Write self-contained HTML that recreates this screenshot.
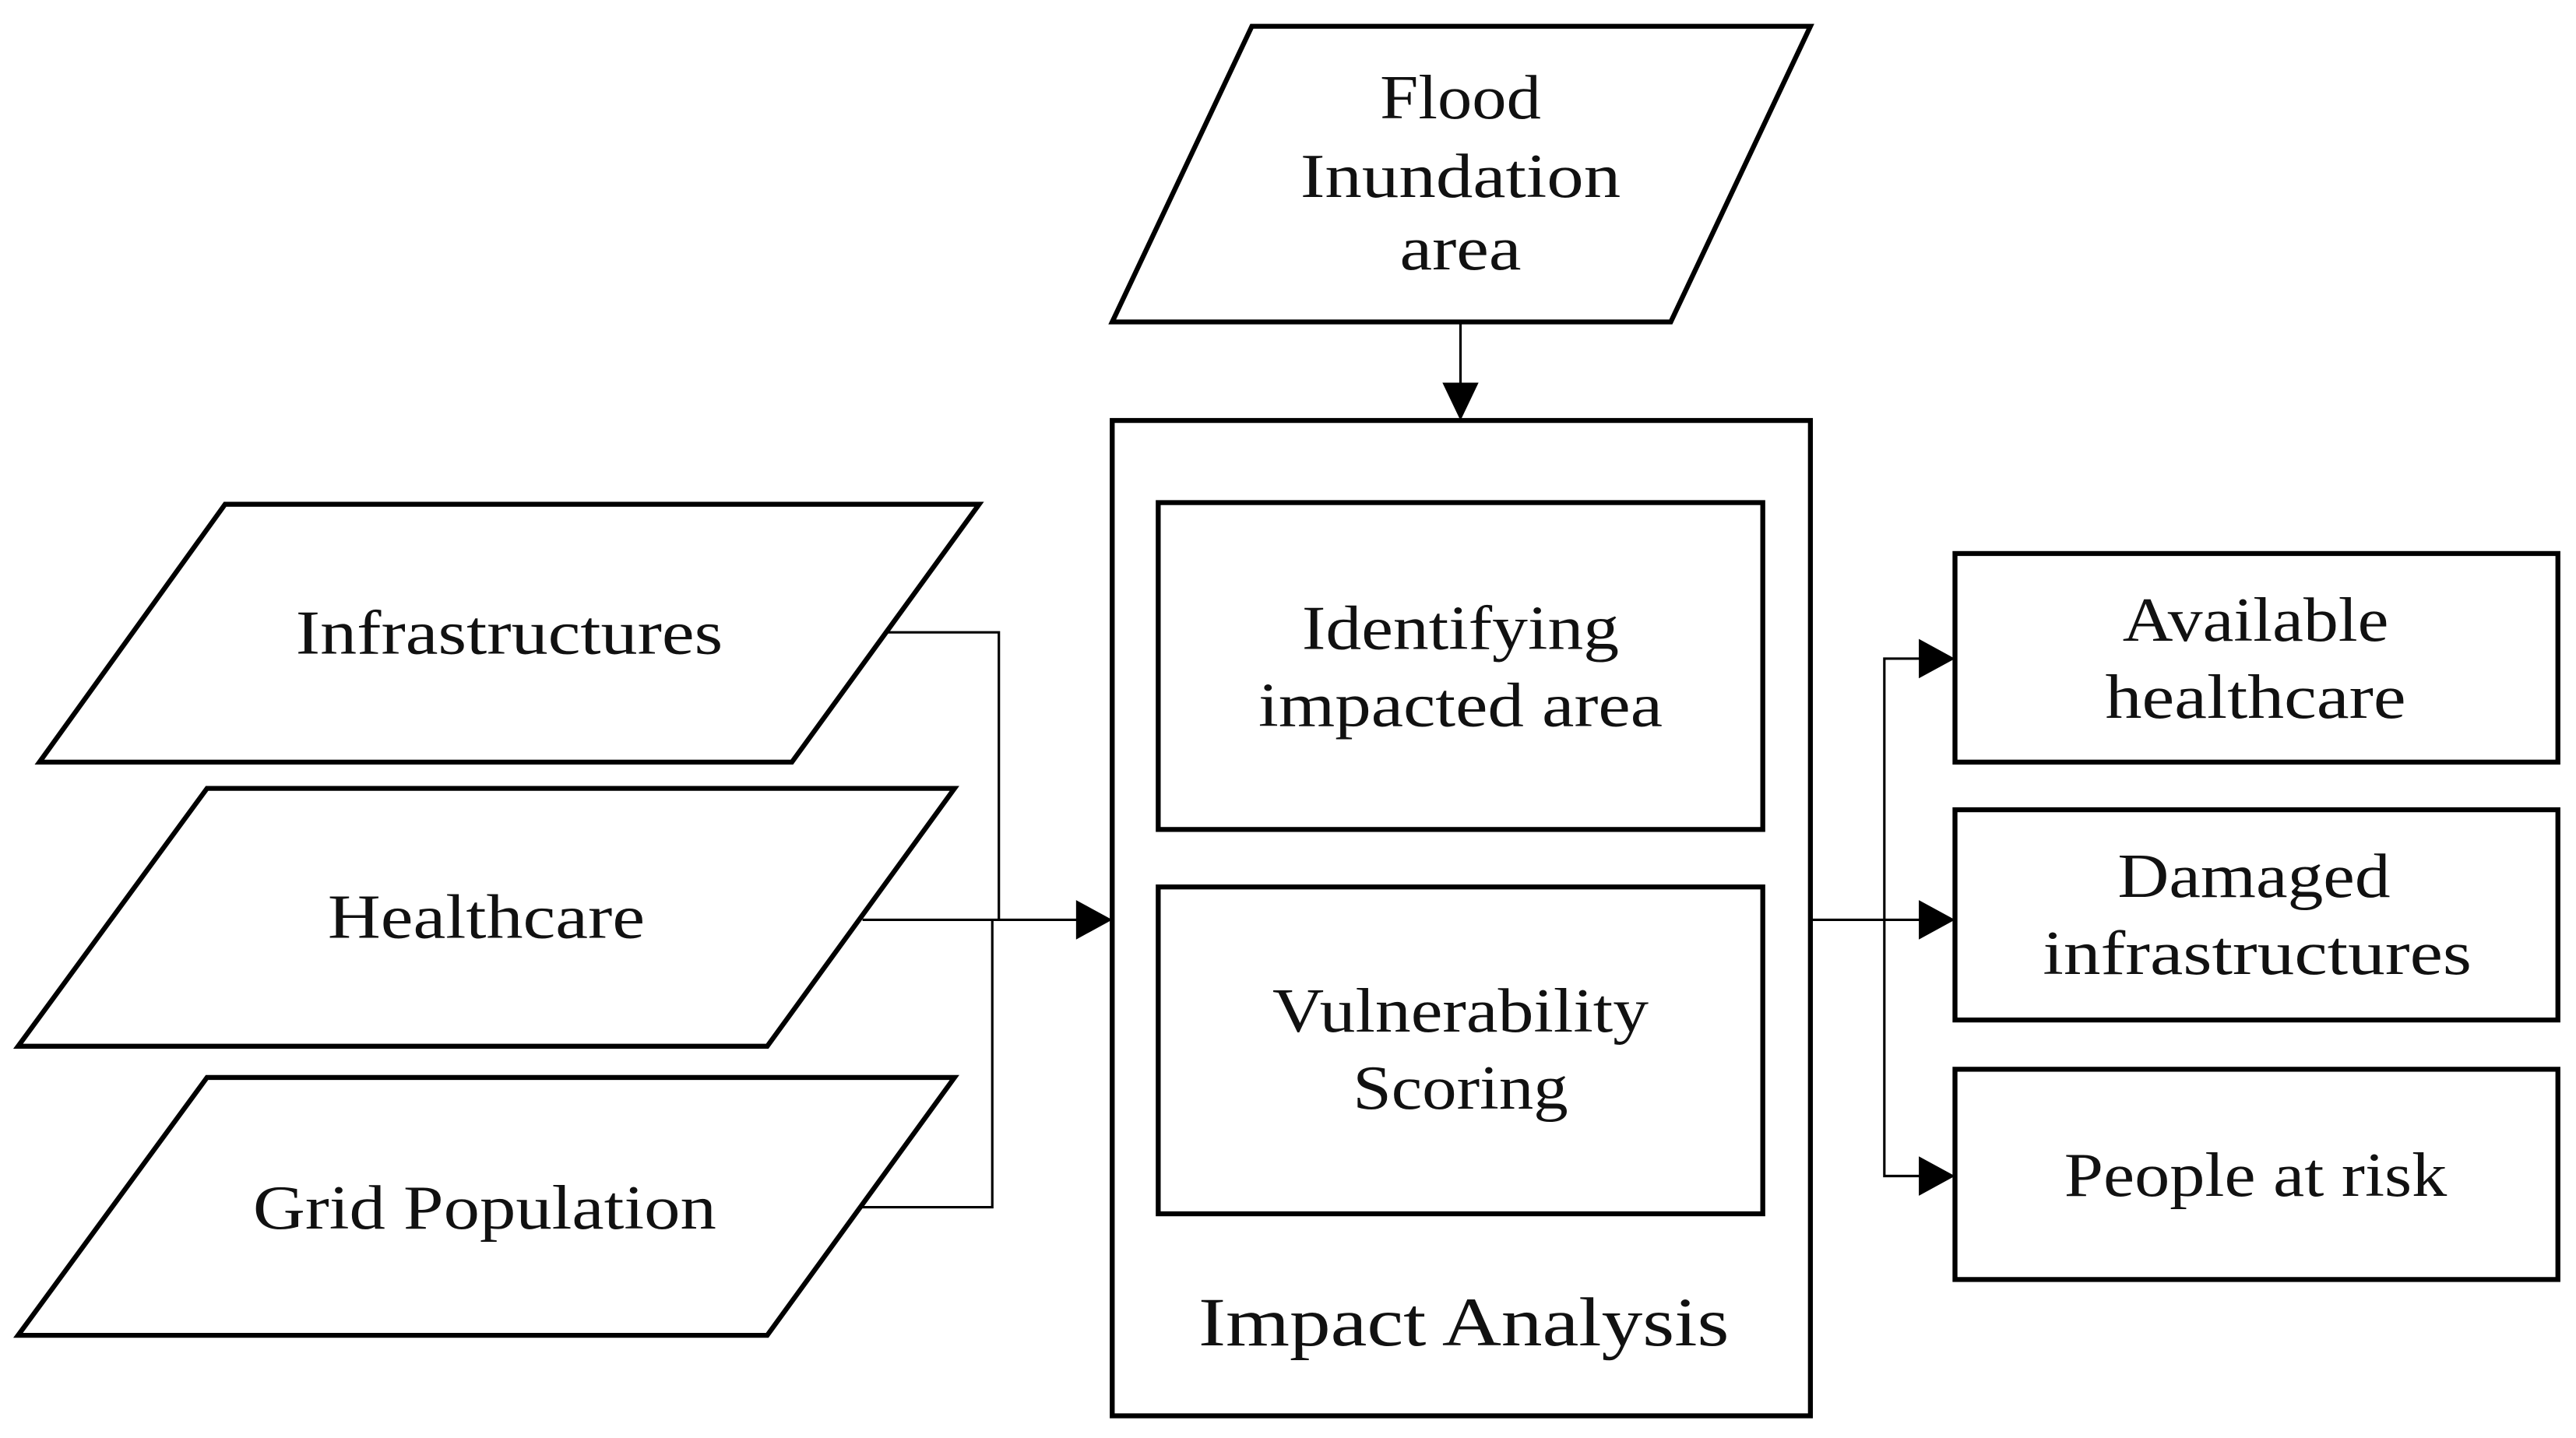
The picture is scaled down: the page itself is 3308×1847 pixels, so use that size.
<!DOCTYPE html>
<html><head><meta charset="utf-8"><style>html,body{margin:0;padding:0;background:#fff}svg{display:block}</style></head>
<body>
<svg width="3308" height="1847" viewBox="0 0 1568 875.5" xmlns="http://www.w3.org/2000/svg">
<g fill="#fff" stroke="#000" stroke-width="3">
<polygon points="762,16 1102,16 1017,196 677,196"/>
<rect x="677" y="256" width="425" height="606"/>
<rect x="705" y="306" width="368" height="199"/>
<rect x="705" y="540" width="368" height="199"/>
<polygon points="137,307 596,307 482,464 24,464"/>
<polygon points="126,480 581,480 467,637 11,637"/>
<polygon points="126,656 581,656 467,813 11,813"/>
<rect x="1190" y="337" width="367" height="127"/>
<rect x="1190" y="493" width="367" height="128"/>
<rect x="1190" y="651" width="367" height="128"/>
</g>
<g fill="none" stroke="#000" stroke-width="1.5">
<line x1="889" y1="196" x2="889" y2="236"/>
<polyline points="538,385 608,385 608,560"/>
<polyline points="525,735 604,735 604,560"/>
<line x1="525" y1="560" x2="658" y2="560"/>
<line x1="1102" y1="560" x2="1170" y2="560"/>
<polyline points="1170,401 1147,401 1147,716 1170,716"/>
</g>
<g fill="#000">
<path d="M878,233 L900,233 L889,256z"/>
<path d="M655,548 L677,560 L655,572z"/>
<path d="M1168,389 L1190,401 L1168,413z"/>
<path d="M1168,548 L1190,560 L1168,572z"/>
<path d="M1168,704 L1190,716 L1168,728z"/>
</g>
<g font-family="'Liberation Serif',serif" font-size="38" fill="#111" text-anchor="middle">
<text x="889" y="72" textLength="98" lengthAdjust="spacingAndGlyphs">Flood</text>
<text x="889" y="120" textLength="195" lengthAdjust="spacingAndGlyphs">Inundation</text>
<text x="889" y="164" textLength="74" lengthAdjust="spacingAndGlyphs">area</text>
<text x="889" y="395" textLength="193" lengthAdjust="spacingAndGlyphs">Identifying</text>
<text x="889" y="442" textLength="246" lengthAdjust="spacingAndGlyphs">impacted area</text>
<text x="889" y="628" textLength="229" lengthAdjust="spacingAndGlyphs">Vulnerability</text>
<text x="889" y="675" textLength="131" lengthAdjust="spacingAndGlyphs">Scoring</text>
<text x="891" y="819" font-size="42" textLength="323" lengthAdjust="spacingAndGlyphs">Impact Analysis</text>
<text x="310" y="398" textLength="260" lengthAdjust="spacingAndGlyphs">Infrastructures</text>
<text x="296" y="571" textLength="193" lengthAdjust="spacingAndGlyphs">Healthcare</text>
<text x="295" y="748" textLength="282" lengthAdjust="spacingAndGlyphs">Grid Population</text>
<text x="1373" y="390" textLength="162" lengthAdjust="spacingAndGlyphs">Available</text>
<text x="1373" y="437" textLength="183" lengthAdjust="spacingAndGlyphs">healthcare</text>
<text x="1372" y="546" textLength="166" lengthAdjust="spacingAndGlyphs">Damaged</text>
<text x="1374" y="593" textLength="261" lengthAdjust="spacingAndGlyphs">infrastructures</text>
<text x="1373" y="728" textLength="233" lengthAdjust="spacingAndGlyphs">People at risk</text>
</g>
</svg>
</body></html>
